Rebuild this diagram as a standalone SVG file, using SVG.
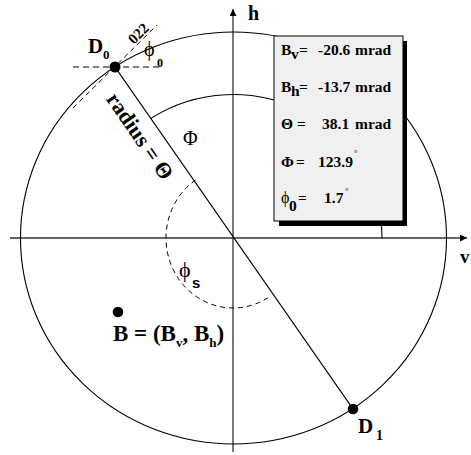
<svg xmlns="http://www.w3.org/2000/svg" width="471" height="455" viewBox="0 0 471 455">
<style>
.ax{stroke:#333;stroke-width:1.3;fill:none}
.cv{stroke:#000;stroke-width:1.1;fill:none}
.dsh{stroke:#000;stroke-width:1;fill:none;stroke-dasharray:5,4}
.b{font-family:"Liberation Serif","DejaVu Serif",serif;font-weight:bold;fill:#000}
.n{font-family:"Liberation Serif","DejaVu Serif",serif;fill:#000}
.s{font-family:"Liberation Sans",Arial,sans-serif;font-weight:bold;fill:#000}
.bx{font-family:"Liberation Serif","DejaVu Serif",serif;font-weight:bold;font-size:15.5px;fill:#000}
</style>
<defs>
<marker id="arr" viewBox="0 0 10 10" refX="10" refY="5" markerWidth="7" markerHeight="7" markerUnits="userSpaceOnUse" orient="auto">
<path d="M0,0 L10,5 L0,10 z" fill="#000"/>
</marker>
</defs>
<rect width="471" height="455" fill="#fff"/>
<g id="axes">
<line class="ax" x1="10" y1="238" x2="467" y2="238" marker-end="url(#arr)"/>
<line class="ax" x1="233" y1="452" x2="233" y2="9" marker-end="url(#arr)"/>
<text class="b" x="248" y="20" font-size="20">h</text>
<text class="b" x="460" y="263" font-size="19">v</text>
</g>
<g id="curves">
<ellipse class="cv" cx="233.5" cy="238" rx="213" ry="206"/>
<path class="cv" d="M150.5,118.6 A149,144 0 0,1 382,238"/>
<path class="dsh" d="M195.5,180 A67,70 0 0,0 233,308 A67,70 0 0,0 270.5,296"/>
<line x1="73" y1="67" x2="160" y2="67" stroke="#555" stroke-width="1.5" stroke-dasharray="6,4"/>
<line class="dsh" x1="73" y1="108" x2="157" y2="25"/>
</g>
<g id="connectors">
<line x1="115" y1="67" x2="353" y2="409" stroke="#000" stroke-width="1.3"/>
</g>
<g id="D0">
<circle cx="115" cy="67" r="5.5" fill="#000"/>
<text class="b" x="88" y="53" font-size="21">D</text>
<text class="b" x="103" y="58.5" font-size="13">0</text>
<text class="b" font-size="15" transform="translate(134,45) rotate(-45)">022</text>
<text class="n" x="144" y="56" font-size="20">ϕ</text>
<text class="b" x="157" y="67" font-size="12">0</text>
</g>
<g id="radius">
<text class="b" font-size="22" transform="translate(105.4,98.9) rotate(55.4)">radius = Θ</text>
</g>
<g id="Phi">
<text class="n" x="183" y="145" font-size="20">Φ</text>
</g>
<g id="phis">
<text class="n" x="179" y="277" font-size="22">ϕ</text>
<text class="s" x="192" y="288" font-size="15">s</text>
</g>
<g id="B">
<circle cx="118" cy="312" r="5.3" fill="#000"/>
<text class="b" x="113" y="341" font-size="23">B = (B<tspan font-size="13" dy="6">v</tspan><tspan dy="-6">, B</tspan><tspan font-size="13" dy="6">h</tspan><tspan dy="-6">)</tspan></text>
</g>
<g id="D1">
<circle cx="353" cy="409" r="5.3" fill="#000"/>
<text class="b" x="358" y="433" font-size="21">D</text>
<text class="b" x="376" y="440" font-size="14">1</text>
</g>
<g id="box">
<rect x="279" y="41" width="128" height="185" fill="#000"/>
<rect x="274" y="36" width="129" height="185" fill="#f0f0f0" stroke="#000" stroke-width="1"/>
<text class="bx" x="281" y="55">B</text><text class="bx" x="291" y="58.5" font-size="9">v</text><text class="bx" x="299" y="55">=</text><text class="bx" x="318" y="55">-20.6</text><text class="bx" x="355" y="55">mrad</text>
<text class="bx" x="281" y="92">B</text><text class="bx" x="291" y="95.5" font-size="9">h</text><text class="bx" x="299" y="92">=</text><text class="bx" x="318" y="92">-13.7</text><text class="bx" x="355" y="92">mrad</text>
<text class="bx" x="281" y="129">Θ</text><text class="bx" x="297" y="129">=</text><text class="bx" x="322" y="129">38.1</text><text class="bx" x="355" y="129">mrad</text>
<text class="bx" x="281" y="167">Φ</text><text class="bx" x="296" y="167">=</text><text class="bx" x="318" y="167">123.9</text><text class="n" x="354" y="156" font-size="9">°</text>
<text class="n" x="281" y="203" font-size="16">ϕ</text><text class="bx" x="289" y="211" font-size="11">0</text><text class="bx" x="298" y="203">=</text><text class="bx" x="324" y="203">1.7</text><text class="n" x="345" y="194" font-size="9">°</text>
</g>
</svg>
